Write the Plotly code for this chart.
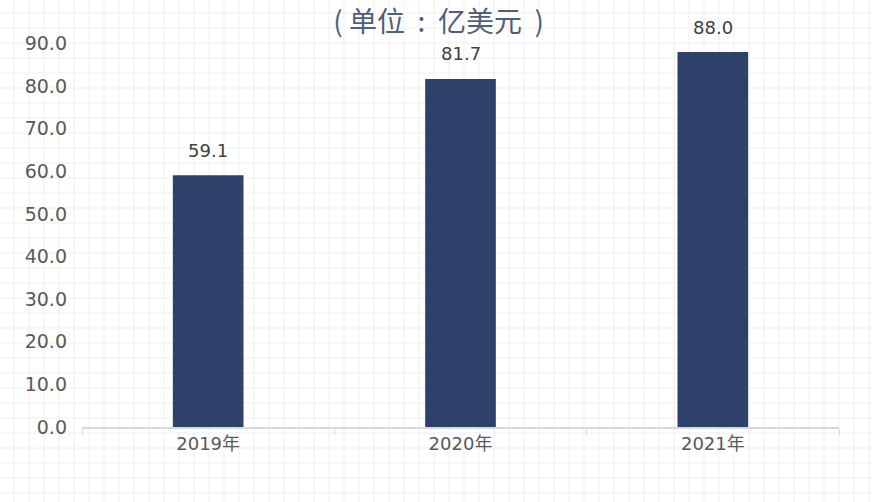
import plotly.graph_objects as go

W, H = 872, 502

years = ["2019年", "2020年", "2021年"]
values = [59.1, 81.7, 88.0]
value_labels = ["59.1", "81.7", "88.0"]
y_ticks = [0, 10, 20, 30, 40, 50, 60, 70, 80, 90]

bar_color = "#2E416B"
text_color = "#595959"

fig = go.Figure()

fig.add_trace(go.Bar(
    x=years,
    y=values,
    marker=dict(color=bar_color, line=dict(width=0)),
    width=0.28,
    hoverinfo="skip",
))

# value labels above bars
for yr, v, lab in zip(years, values, value_labels):
    fig.add_annotation(
        x=yr, y=v, text=lab, showarrow=False, yshift=25,
        font=dict(family="DejaVu Sans", size=18, color="#404040"),
    )

# faint spreadsheet-like background grid
step = 15
path = ""
for px in range(14, W, step):
    path += f"M{px/W:.5f},0 L{px/W:.5f},1 "
for py in range(13, H, step):
    yy = 1 - py / H
    path += f"M0,{yy:.5f} L1,{yy:.5f} "
fig.add_shape(type="path", path=path, xref="paper", yref="paper",
              line=dict(color="#efefef", width=1), layer="below")

nb = "\u00a0"
title_text = f"({nb}单位{nb}{nb}:{nb}{nb}亿美元{nb}{nb})"

fig.update_layout(
    width=W, height=H,
    margin=dict(l=0, r=0, t=0, b=0, autoexpand=False),
    paper_bgcolor="white",
    plot_bgcolor="rgba(0,0,0,0)",
    showlegend=False,
    title=dict(
        text=title_text,
        x=0.503, xanchor="center", y=1 - 22 / H, yanchor="middle",
        font=dict(family="Noto Sans CJK SC", size=28, color="#4F5F7C"),
    ),
    xaxis=dict(
        domain=[82 / W, 839 / W],
        automargin=False,
        showline=True, linecolor="#d9d9d9", linewidth=1.5,
        ticks="outside", tickson="boundaries", ticklen=6, tickcolor="#d9d9d9",
        showgrid=False, zeroline=False,
        tickfont=dict(family="DejaVu Sans, Noto Sans CJK SC", size=18, color=text_color),
    ),
    yaxis=dict(
        domain=[75 / H, 458.4 / H],
        automargin=False,
        range=[0, 90],
        tickvals=y_ticks,
        tickformat=".1f",
        showgrid=False, zeroline=False, showline=False,
        ticks="", ticklabelstandoff=14,
        tickfont=dict(family="DejaVu Sans", size=19, color=text_color),
    ),
)

fig.write_html("out.html", config={"displayModeBar": False},
               post_script="document.body.style.margin='0';")
